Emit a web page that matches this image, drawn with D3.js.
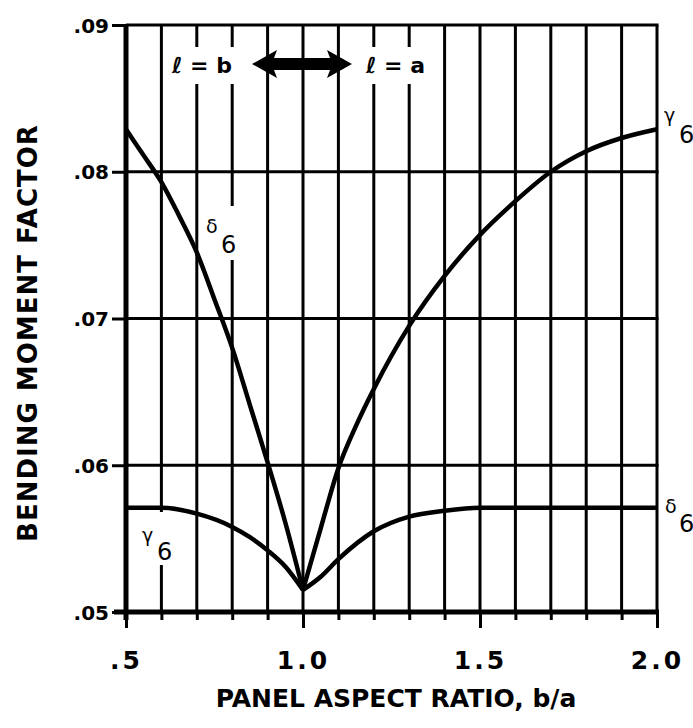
<!DOCTYPE html>
<html>
<head>
<meta charset="utf-8">
<script src="https://cdn.jsdelivr.net/npm/d3@7"></script>
<style>
  body { margin: 0; background: #fff; }
  svg { display: block; }
  text { font-family: "DejaVu Sans", sans-serif; font-weight: bold; fill: #000; }
</style>
</head>
<body>
<div id="chart"></div>
<script>
// bending moment factor curves
const deltaLeftX  = [0.5, 0.55, 0.6, 0.65, 0.7, 0.75, 0.8, 0.85, 0.9, 0.95, 1.0];
const deltaLeftY  = [.0829, .0811, .0793, .0770, .0745, .0713, .0680, .0641, .0602, .0561, .0515];
const gammaRightX = [1.0, 1.05, 1.1, 1.15, 1.2, 1.3, 1.4, 1.5, 1.6, 1.7, 1.8, 1.9, 2.0];
const gammaRightY = [.0515, .0557, .0598, .0627, .0652, .0695, .0729, .0757, .0780, .0800, .0814, .0823, .0829];
const gammaLeftX  = [0.5, 0.6, 0.7, 0.8, 0.85, 0.9, 0.95, 1.0];
const gammaLeftY  = [.0571, .0571, .0567, .0558, .0551, .0542, .0531, .0515];
const deltaRightX = [1.0, 1.05, 1.1, 1.2, 1.3, 1.4, 1.5, 1.6, 1.8, 2.0];
const deltaRightY = [.0515, .0524, .0536, .0555, .0565, .0569, .0571, .0571, .0571, .0571];

const xMajorTicks = [0.5, 1.0, 1.5, 2.0];
const xTickLabels = [".5", "1.0", "1.5", "2.0"];
const xMinorTicks = d3.range(5, 21).map(d => d / 10);
const yTicks = [.05, .06, .07, .08, .09];
const yTickLabels = [".05", ".06", ".07", ".08", ".09"];

const W = 693, H = 728;
const svg = d3.select("#chart").append("svg")
	.attr("width", W)
	.attr("height", H);

svg.append("rect").attr("width", W).attr("height", H).attr("fill", "#fff");

const x = d3.scaleLinear().domain([0.5, 2.0]).range([126, 657]);
const y = d3.scaleLinear().domain([.05, .09]).range([612, 25]);

// GRID
const grid = svg.append("g").attr("stroke", "#000").attr("stroke-width", 3);
grid.selectAll(".vgrid")
	.data(xMinorTicks.filter(d => d > 0.5))
	.enter().append("line")
	.attr("x1", d => x(d)).attr("x2", d => x(d))
	.attr("y1", y(.09)).attr("y2", y(.05));
grid.selectAll(".hgrid")
	.data(yTicks.filter(d => d > .05))
	.enter().append("line")
	.attr("x1", x(0.5)).attr("x2", x(2.0) + 1.5)
	.attr("y1", d => y(d)).attr("y2", d => y(d));

// white gaps in the grid behind labels
const masks = [[170, 47, 70, 37], [362, 47, 72, 37], [204, 206, 36, 54], [140, 512, 36, 53]];
svg.selectAll(".mask")
	.data(masks)
	.enter().append("rect")
	.attr("x", d => d[0]).attr("y", d => d[1])
	.attr("width", d => d[2]).attr("height", d => d[3])
	.attr("fill", "#fff");

// AXES
const yAxis = svg.append("g")
	.attr("transform", `translate(${x(0.5)},0)`)
	.call(d3.axisLeft(y).tickValues(yTicks).tickSize(14)
		.tickFormat((d, i) => yTickLabels[i]).tickPadding(3));
yAxis.select(".domain").remove();
yAxis.selectAll("line").attr("stroke-width", 3);
yAxis.selectAll("text").style("font-size", "20px").attr("dy", "0.36em");

const xMinor = svg.append("g")
	.attr("transform", `translate(0,${y(.05)})`)
	.call(d3.axisBottom(x).tickValues(xMinorTicks).tickSize(8).tickFormat(""));
xMinor.select(".domain").remove();
xMinor.selectAll("line").attr("stroke-width", 3);

const xAxis = svg.append("g")
	.attr("transform", `translate(0,${y(.05)})`)
	.call(d3.axisBottom(x).tickValues(xMajorTicks).tickSize(16)
		.tickFormat((d, i) => xTickLabels[i]));
xAxis.select(".domain").remove();
xAxis.selectAll("line").attr("stroke-width", 3);
xAxis.selectAll("text")
	.attr("y", 57).attr("dy", 0)
	.style("font-size", "25px")
	.style("letter-spacing", "3px");

svg.append("line")
	.attr("x1", x(0.5)).attr("x2", x(0.5))
	.attr("y1", y(.09) - 1).attr("y2", y(.05) + 8)
	.attr("stroke", "#000").attr("stroke-width", 5);
svg.append("line")
	.attr("x1", x(0.5) - 12).attr("x2", x(2.0) + 2)
	.attr("y1", y(.05)).attr("y2", y(.05))
	.attr("stroke", "#000").attr("stroke-width", 5);

// CURVES
const line = d3.line()
	.x(d => x(d[0]))
	.y(d => y(d[1]))
	.curve(d3.curveMonotoneX);

const series = [
	d3.zip(deltaLeftX, deltaLeftY),
	d3.zip(gammaRightX, gammaRightY),
	d3.zip(gammaLeftX, gammaLeftY),
	d3.zip(deltaRightX, deltaRightY)
];
svg.selectAll(".curve")
	.data(series)
	.enter().append("path")
	.attr("class", "curve")
	.attr("d", line)
	.attr("fill", "none")
	.attr("stroke", "#000")
	.attr("stroke-width", 4.5)
	.attr("stroke-linejoin", "round");

// double arrow between the two regimes
const ay = 64, ax0 = 252, ax1 = 352, hl = 25, hh = 14, sh = 6;
svg.append("path")
	.attr("d", `M${ax0},${ay} L${ax0 + hl},${ay - hh} L${ax0 + hl - 3},${ay - sh} L${ax1 - hl + 3},${ay - sh}
		L${ax1 - hl},${ay - hh} L${ax1},${ay} L${ax1 - hl},${ay + hh} L${ax1 - hl + 3},${ay + sh}
		L${ax0 + hl - 3},${ay + sh} L${ax0 + hl},${ay + hh} Z`)
	.attr("fill", "#000");

svg.append("text").attr("x", 172).attr("y", 73).style("font-size", "22px").text("ℓ = b");
svg.append("text").attr("x", 366).attr("y", 73).style("font-size", "22px").text("ℓ = a");

// CURVE LABELS
const labels = [
	{ g: "δ", gx: 206, gy: 233, sx: 221, sy: 253 },
	{ g: "γ", gx: 664, gy: 122, sx: 679, sy: 143 },
	{ g: "γ", gx: 142, gy: 542, sx: 157, sy: 560 },
	{ g: "δ", gx: 665, gy: 513, sx: 679, sy: 532 }
];
labels.forEach(l => {
	svg.append("text").attr("x", l.gx).attr("y", l.gy).style("font-size", "19px").style("font-weight", "normal").text(l.g);
	svg.append("text").attr("x", l.sx).attr("y", l.sy).style("font-size", "24px").style("font-weight", "normal").text("6");
});

// TITLES
svg.append("text")
	.attr("transform", "translate(37,333) rotate(-90)")
	.attr("text-anchor", "middle")
	.style("font-size", "26px")
	.style("letter-spacing", "1px")
	.text("BENDING MOMENT FACTOR");

svg.append("text")
	.attr("x", 396).attr("y", 707)
	.attr("text-anchor", "middle")
	.style("font-size", "25px")
	.text("PANEL ASPECT RATIO, b/a");
</script>
</body>
</html>
